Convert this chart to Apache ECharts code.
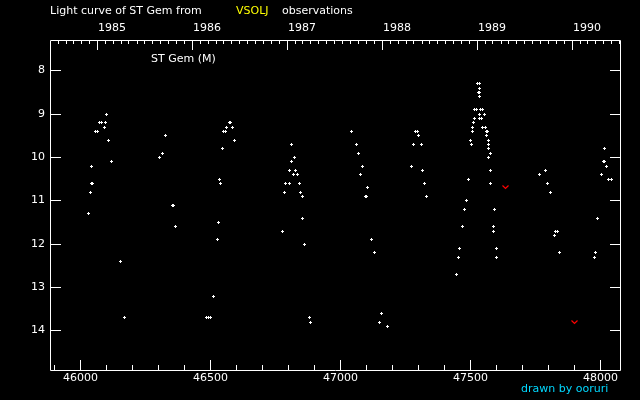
<!DOCTYPE html>
<html>
<head>
<meta charset="utf-8">
<title>Light curve of ST Gem</title>
<script src="https://cdn.jsdelivr.net/npm/echarts@6/dist/echarts.min.js"></script>
<style>
  html, body { margin: 0; padding: 0; background: #000; }
  #chart { width: 640px; height: 400px; }
</style>
</head>
<body>
<div id="chart"></div>
<script>
// observations: [JD - 2400000, visual magnitude]
const obs1985 = [
  [46032, 11.3], [46040, 10.8], [46041, 10.6], [46046, 10.6], [46043, 10.2],
  [46059, 9.4], [46067, 9.4], [46073, 9.2], [46081, 9.2], [46093, 9.3],
  [46097, 9.2], [46101, 9.0], [46109, 9.6], [46120, 10.1], [46155, 12.4],
  [46170, 13.7]
];
const obs1986a = [
  [46305, 10.0], [46317, 9.9], [46328, 9.5], [46355, 11.1], [46359, 11.1],
  [46367, 11.6]
];
const obs1986b = [
  [46486, 13.7], [46493, 13.7], [46501, 13.7], [46513, 13.2], [46528, 11.9],
  [46532, 11.5], [46536, 10.5], [46540, 10.6], [46547, 9.8], [46551, 9.4],
  [46556, 9.4], [46563, 9.3], [46572, 9.2], [46577, 9.2], [46586, 9.3],
  [46593, 9.6]
];
const obs1987 = [
  [46778, 11.7], [46786, 10.8], [46790, 10.6], [46805, 10.6], [46805, 10.3],
  [46813, 10.1], [46813, 9.7], [46820, 10.4], [46824, 10.0], [46828, 10.3],
  [46835, 10.4], [46842, 10.6], [46847, 10.8], [46855, 10.9], [46855, 11.4],
  [46863, 12.0], [46882, 13.7], [46886, 13.8]
];
const obs1988a = [
  [47043, 9.4], [47063, 9.7], [47070, 9.9], [47078, 10.4], [47086, 10.2],
  [47097, 10.9], [47101, 10.9], [47105, 10.7], [47120, 11.9], [47132, 12.2],
  [47151, 13.8], [47159, 13.6], [47182, 13.9]
];
const obs1988b = [
  [47274, 10.2], [47282, 9.7], [47290, 9.4], [47298, 9.4], [47301, 9.5],
  [47313, 9.7], [47317, 10.3], [47324, 10.6], [47332, 10.9]
];
const obs1989 = [
  [47447, 12.7], [47455, 12.3], [47459, 12.1], [47470, 11.6], [47478, 11.2],
  [47486, 11.0], [47493, 10.5], [47501, 9.6], [47505, 9.7], [47509, 9.3],
  [47509, 9.4], [47513, 9.2], [47517, 9.1], [47517, 8.9], [47524, 8.9],
  [47528, 8.3], [47536, 8.3], [47536, 8.4], [47531, 8.5], [47535, 8.5],
  [47536, 8.6], [47536, 9.0], [47536, 9.1], [47540, 8.9], [47543, 9.1],
  [47547, 8.9], [47547, 9.3], [47555, 9.0], [47559, 9.3], [47562, 9.4],
  [47566, 9.4], [47563, 9.5], [47570, 9.6], [47570, 9.7], [47570, 9.8],
  [47578, 9.9], [47570, 10.0], [47578, 10.3], [47578, 10.6], [47594, 11.2],
  [47590, 11.6], [47590, 11.7], [47601, 12.1], [47601, 12.3]
];
const obs1990 = [
  [47767, 10.4], [47790, 10.3], [47797, 10.6], [47809, 10.8], [47824, 11.8],
  [47828, 11.7], [47836, 11.7], [47843, 12.2], [47978, 12.3], [47982, 12.2],
  [47990, 11.4], [48005, 10.4], [48012, 10.1], [48016, 10.1], [48016, 9.8],
  [48024, 10.2], [48032, 10.5], [48044, 10.5]
];
// fainter-than estimates (red marks)
const fainterThan = [[47636, 10.7], [47901, 13.8]];

const jdTicks = [46000, 46500, 47000, 47500, 48000];
const jdLabels = ['46000', '46500', '47000', '47500', '48000'];
const magTicks = [8, 9, 10, 11, 12, 13, 14];
const magLabels = ['8', '9', '10', '11', '12', '13', '14'];
const years = [1985, 1986, 1987, 1988, 1989, 1990];
const yearLabels = ['1985', '1986', '1987', '1988', '1989', '1990'];

const jdMin = 45884.6, jdMax = 48076.9;
const magMin = 7.3, magMax = 14.916;
const FONT = '11px "DejaVu Sans"';

// JD - 2400000 at 0h UT on the first of a month
function jdOf(y, m) {
  return Date.UTC(y, m, 1) / 86400000 + 40587.5;
}

const minorJd = [];
for (let v = 45900; v <= 48000; v += 100) {
  if (v % 500 !== 0) minorJd.push(v);
}
const monthJd = [];
for (let y = 1984; y <= 1990; y++) {
  for (let m = 1; m < 12; m++) {
    const jd = jdOf(y, m);
    if (jd > jdMin && jd < jdMax) monthJd.push(jd);
  }
}

// kind: 0 bottom major, 1 bottom minor, 2 top major (year), 3 top minor (month)
const xTickData = []
  .concat(jdTicks.map(v => [v, 10, 0]))
  .concat(minorJd.map(v => [v, 10, 1]))
  .concat(years.map(y => [jdOf(y, 0), 10, 2]))
  .concat(monthJd.map(v => [v, 10, 3]));

const allObs = [].concat(obs1985, obs1986a, obs1986b, obs1987, obs1988a, obs1988b, obs1989, obs1990);

const chart = echarts.init(document.getElementById('chart'));

chart.setOption({
  backgroundColor: '#000',
  animation: false,
  grid: { left: 50, top: 40, width: 570, height: 330, show: false },
  xAxis: {
    type: 'value', min: jdMin, max: jdMax,
    axisLine: { show: false }, axisTick: { show: false },
    axisLabel: { show: false }, splitLine: { show: false }
  },
  yAxis: {
    type: 'value', min: magMin, max: magMax, inverse: true,
    axisLine: { show: false }, axisTick: { show: false },
    axisLabel: { show: false }, splitLine: { show: false }
  },
  graphic: [
    { type: 'rect', shape: { x: 50.5, y: 40.5, width: 570, height: 330 },
      style: { fill: null, stroke: '#fff', lineWidth: 1 }, silent: true },
    { type: 'text', left: 50, top: 6,
      style: { text: 'Light curve of ST Gem from', fill: '#fff', font: FONT } },
    { type: 'text', left: 236, top: 6,
      style: { text: 'VSOLJ', fill: '#ffff00', font: FONT } },
    { type: 'text', left: 282, top: 6,
      style: { text: 'observations', fill: '#fff', font: FONT } },
    { type: 'text', left: 151, top: 54,
      style: { text: 'ST Gem (M)', fill: '#fff', font: FONT } },
    { type: 'text', left: 521, top: 384,
      style: { text: 'drawn by ooruri', fill: '#00d8ff', font: FONT } }
  ],
  series: [
    {
      type: 'custom',
      data: xTickData,
      silent: true,
      renderItem(params, api) {
        const cs = params.coordSys;
        const x = Math.round(api.coord([api.value(0), magMin])[0]);
        const kind = api.value(2);
        const len = [10, 5, 10, 4][kind];
        const y = kind < 2 ? cs.y + cs.height - len : cs.y;
        return { type: 'rect', shape: { x: x, y: y, width: 1, height: len }, style: { fill: '#fff' } };
      }
    },
    {
      type: 'custom',
      data: jdTicks.map(v => [v, magMax]),
      silent: true,
      renderItem(params, api) {
        const p = api.coord([api.value(0), magMax]);
        return { type: 'text', style: {
          text: jdLabels[params.dataIndex], x: Math.round(p[0]) + 0.5, y: p[1] + 8,
          fill: '#fff', font: FONT, align: 'center', verticalAlign: 'middle' } };
      }
    },
    {
      type: 'custom',
      data: years.map(y => [jdOf(y, 0), magMin]),
      silent: true,
      renderItem(params, api) {
        const p = api.coord([api.value(0), magMin]);
        return { type: 'text', style: {
          text: yearLabels[params.dataIndex], x: Math.round(p[0]) + 1, y: p[1] - 12,
          fill: '#fff', font: FONT, align: 'left', verticalAlign: 'middle' } };
      }
    },
    {
      type: 'custom',
      data: magTicks.map(m => [jdMin, m]),
      silent: true,
      renderItem(params, api) {
        const cs = params.coordSys;
        const y = Math.round(api.coord([jdMin, api.value(1)])[1]);
        return { type: 'group', children: [
          { type: 'rect', shape: { x: cs.x, y: y, width: 11, height: 1 }, style: { fill: '#fff' } },
          { type: 'rect', shape: { x: cs.x + cs.width - 10, y: y, width: 10, height: 1 }, style: { fill: '#fff' } },
          { type: 'text', style: {
            text: magLabels[params.dataIndex], x: cs.x - 5, y: y + 0.5,
            fill: '#fff', font: FONT, align: 'right', verticalAlign: 'middle' } }
        ] };
      }
    },
    {
      name: 'ST Gem',
      type: 'custom',
      data: allObs,
      renderItem(params, api) {
        const p = api.coord([api.value(0), api.value(1)]);
        const x = Math.round(p[0]), y = Math.round(p[1]);
        return { type: 'group', children: [
          { type: 'rect', shape: { x: x - 1, y: y, width: 3, height: 1 }, style: { fill: '#fff' } },
          { type: 'rect', shape: { x: x, y: y - 1, width: 1, height: 3 }, style: { fill: '#fff' } }
        ] };
      }
    },
    {
      name: 'fainter than',
      type: 'custom',
      data: fainterThan,
      renderItem(params, api) {
        const p = api.coord([api.value(0), api.value(1)]);
        const x = Math.round(p[0]) + 0.5, y = Math.round(p[1]) + 0.5;
        return { type: 'polyline', shape: { points: [[x - 3, y - 2], [x, y + 1], [x + 3, y - 2]] },
          style: { stroke: '#ff0000', lineWidth: 1.2, fill: null } };
      }
    }
  ]
});
</script>
</body>
</html>
